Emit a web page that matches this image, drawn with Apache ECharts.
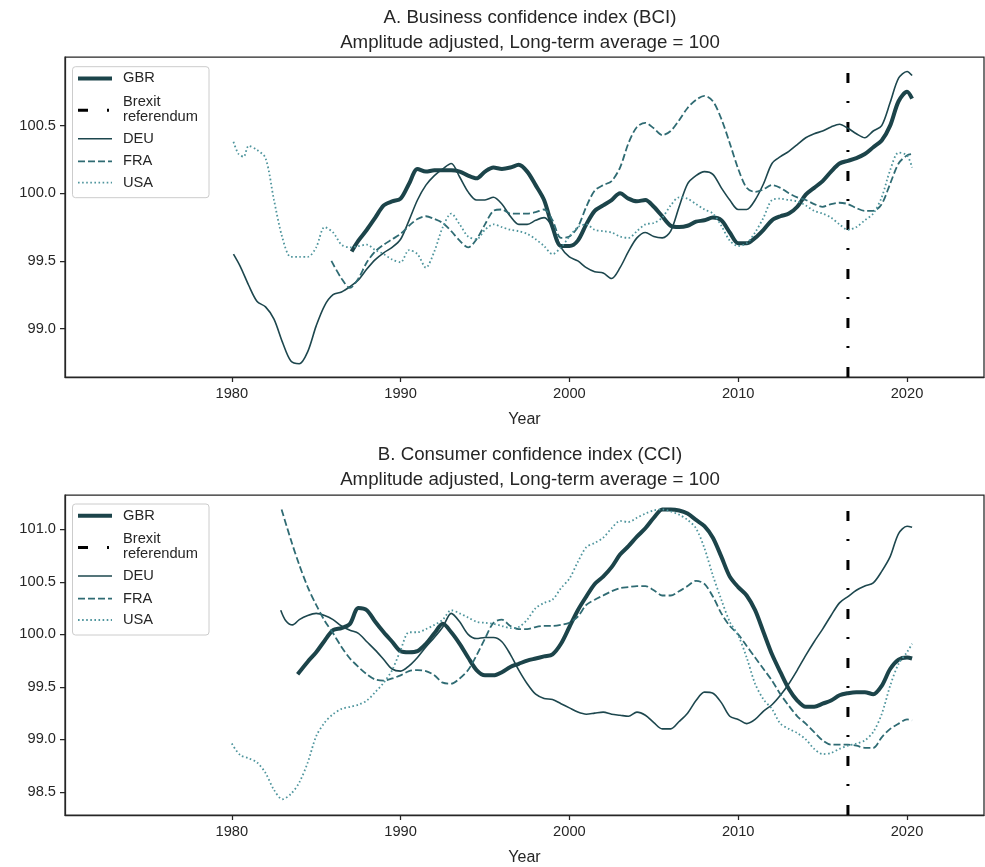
<!DOCTYPE html>
<html><head><meta charset="utf-8">
<script src="https://cdn.jsdelivr.net/npm/echarts@6/dist/echarts.min.js"></script>
<style>html,body{margin:0;padding:0;background:#fff}#chart{width:985px;height:867px}</style>
</head><body><div id="chart"></div>
<script>
// ---------- DATA ----------
const xTicks = [1980, 1990, 2000, 2010, 2020];
const bciTicks = [99.0, 99.5, 100.0, 100.5];
const cciTicks = [98.5, 99.0, 99.5, 100.0, 100.5, 101.0];
const brexitYear = 2016.5;
const countries = ['GBR', 'DEU', 'FRA', 'USA'];
const titleA = 'A. Business confidence index (BCI)\nAmplitude adjusted, Long-term average = 100';
const titleB = 'B. Consumer confidence index (CCI)\nAmplitude adjusted, Long-term average = 100';

const bciGBR = [[1987.1,99.57],[1987.5,99.65],[1988,99.73],[1988.5,99.82],[1989,99.91],[1989.5,99.94],[1990,99.96],[1990.5,100.07],[1991,100.18],[1991.5,100.16],[1992,100.17],[1992.5,100.17],[1993,100.17],[1993.5,100.16],[1994,100.13],[1994.5,100.11],[1995,100.16],[1995.5,100.19],[1996,100.18],[1996.5,100.19],[1997,100.21],[1997.5,100.16],[1998,100.06],[1998.5,99.95],[1999,99.75],[1999.5,99.61],[2000,99.61],[2000.5,99.65],[2001,99.77],[2001.5,99.87],[2002,99.91],[2002.5,99.95],[2003,100.0],[2003.5,99.96],[2004,99.94],[2004.5,99.95],[2005,99.90],[2005.5,99.83],[2006,99.76],[2006.5,99.75],[2007,99.76],[2007.5,99.79],[2008,99.80],[2008.5,99.82],[2009,99.80],[2009.5,99.71],[2010,99.63],[2010.5,99.63],[2011,99.67],[2011.5,99.73],[2012,99.80],[2012.5,99.83],[2013,99.85],[2013.5,99.90],[2014,99.99],[2014.5,100.04],[2015,100.09],[2015.5,100.16],[2016,100.22],[2016.5,100.24],[2017,100.26],[2017.5,100.29],[2018,100.34],[2018.5,100.39],[2019,100.50],[2019.5,100.68],[2020,100.75],[2020.3,100.70]];
const bciDEU = [[1980.1,99.55],[1980.5,99.46],[1981,99.32],[1981.5,99.20],[1982,99.16],[1982.5,99.07],[1983,98.90],[1983.5,98.76],[1984,98.74],[1984.5,98.83],[1985,99.02],[1985.5,99.17],[1986,99.25],[1986.5,99.27],[1987,99.31],[1987.5,99.36],[1988,99.44],[1988.5,99.51],[1989,99.56],[1989.5,99.60],[1990,99.66],[1990.5,99.80],[1991,99.95],[1991.5,100.06],[1992,100.13],[1992.5,100.18],[1993,100.22],[1993.5,100.12],[1994,100.01],[1994.5,99.95],[1995,99.95],[1995.5,99.97],[1996,99.92],[1996.5,99.83],[1997,99.77],[1997.5,99.77],[1998,99.80],[1998.5,99.82],[1999,99.75],[1999.5,99.60],[2000,99.53],[2000.5,99.50],[2001,99.45],[2001.5,99.42],[2002,99.41],[2002.5,99.37],[2003,99.45],[2003.5,99.57],[2004,99.67],[2004.5,99.71],[2005,99.68],[2005.5,99.67],[2006,99.72],[2006.5,99.90],[2007,100.07],[2007.5,100.13],[2008,100.16],[2008.5,100.14],[2009,100.04],[2009.5,99.95],[2010,99.88],[2010.5,99.88],[2011,99.95],[2011.5,100.07],[2012,100.22],[2012.5,100.27],[2013,100.31],[2013.5,100.36],[2014,100.41],[2014.5,100.44],[2015,100.46],[2015.5,100.49],[2016,100.51],[2016.5,100.48],[2017,100.44],[2017.5,100.41],[2018,100.46],[2018.5,100.50],[2019,100.67],[2019.5,100.85],[2020,100.90],[2020.3,100.87]];
const bciFRA = [[1985.9,99.50],[1986.5,99.37],[1987,99.30],[1987.5,99.37],[1988,99.49],[1988.5,99.57],[1989,99.62],[1989.5,99.66],[1990,99.70],[1990.5,99.76],[1991,99.81],[1991.5,99.83],[1992,99.81],[1992.5,99.78],[1993,99.72],[1993.5,99.65],[1994,99.60],[1994.5,99.66],[1995,99.77],[1995.5,99.87],[1996,99.88],[1996.5,99.85],[1997,99.85],[1997.5,99.85],[1998,99.86],[1998.5,99.88],[1999,99.80],[1999.5,99.67],[2000,99.68],[2000.5,99.75],[2001,99.90],[2001.5,100.02],[2002,100.06],[2002.5,100.09],[2003,100.19],[2003.5,100.37],[2004,100.49],[2004.5,100.52],[2005,100.48],[2005.5,100.43],[2006,100.46],[2006.5,100.54],[2007,100.63],[2007.5,100.69],[2008,100.72],[2008.5,100.68],[2009,100.55],[2009.5,100.37],[2010,100.18],[2010.5,100.04],[2011,100.01],[2011.5,100.03],[2012,100.06],[2012.5,100.04],[2013,100.00],[2013.5,99.97],[2014,99.95],[2014.5,99.92],[2015,99.90],[2015.5,99.92],[2016,99.93],[2016.5,99.92],[2017,99.89],[2017.5,99.87],[2018,99.87],[2018.5,99.92],[2019,100.07],[2019.5,100.22],[2020,100.28],[2020.3,100.29]];
const bciUSA = [[1980.1,100.38],[1980.4,100.29],[1980.7,100.27],[1981,100.35],[1981.5,100.32],[1982,100.26],[1982.5,99.95],[1983,99.67],[1983.5,99.53],[1984,99.53],[1984.5,99.53],[1985,99.60],[1985.5,99.75],[1986,99.71],[1986.5,99.62],[1987,99.60],[1987.5,99.61],[1988,99.62],[1988.5,99.58],[1989,99.55],[1989.5,99.51],[1990,99.49],[1990.5,99.58],[1991,99.55],[1991.5,99.45],[1992,99.57],[1992.5,99.75],[1993,99.85],[1993.5,99.77],[1994,99.68],[1994.5,99.66],[1995,99.73],[1995.5,99.77],[1996,99.75],[1996.5,99.73],[1997,99.72],[1997.5,99.70],[1998,99.66],[1998.5,99.61],[1999,99.55],[1999.5,99.60],[2000,99.68],[2000.5,99.75],[2001,99.77],[2001.5,99.73],[2002,99.72],[2002.5,99.71],[2003,99.68],[2003.5,99.67],[2004,99.72],[2004.5,99.77],[2005,99.78],[2005.5,99.82],[2006,99.91],[2006.5,99.97],[2007,99.96],[2007.5,99.92],[2008,99.88],[2008.5,99.85],[2009,99.76],[2009.5,99.65],[2010,99.61],[2010.5,99.63],[2011,99.71],[2011.5,99.82],[2012,99.95],[2012.5,99.96],[2013,99.95],[2013.5,99.94],[2014,99.91],[2014.5,99.87],[2015,99.85],[2015.5,99.82],[2016,99.77],[2016.5,99.73],[2017,99.75],[2017.5,99.80],[2018,99.85],[2018.5,99.97],[2019,100.17],[2019.5,100.30],[2020,100.28],[2020.3,100.19]];

const cciGBR = [[1983.9,99.62],[1984.5,99.74],[1985,99.83],[1985.5,99.94],[1986,100.04],[1986.5,100.06],[1987,100.10],[1987.5,100.25],[1988,100.23],[1988.5,100.12],[1989,100.02],[1989.5,99.93],[1990,99.84],[1990.5,99.83],[1991,99.84],[1991.5,99.91],[1992,100.01],[1992.5,100.10],[1993,100.02],[1993.5,99.91],[1994,99.78],[1994.5,99.66],[1995,99.61],[1995.5,99.61],[1996,99.64],[1996.5,99.69],[1997,99.72],[1997.5,99.75],[1998,99.77],[1998.5,99.79],[1999,99.81],[1999.5,99.91],[2000,100.07],[2000.5,100.23],[2001,100.36],[2001.5,100.48],[2002,100.55],[2002.5,100.64],[2003,100.76],[2003.5,100.84],[2004,100.93],[2004.5,101.01],[2005,101.11],[2005.5,101.19],[2006,101.19],[2006.5,101.18],[2007,101.15],[2007.5,101.09],[2008,101.03],[2008.5,100.92],[2009,100.74],[2009.5,100.55],[2010,100.45],[2010.5,100.37],[2011,100.23],[2011.5,100.02],[2012,99.81],[2012.5,99.64],[2013,99.48],[2013.5,99.37],[2014,99.31],[2014.5,99.31],[2015,99.34],[2015.5,99.37],[2016,99.42],[2016.5,99.44],[2017,99.45],[2017.5,99.45],[2018,99.43],[2018.5,99.51],[2019,99.67],[2019.5,99.76],[2020,99.78],[2020.3,99.77]];
const cciDEU = [[1982.9,100.23],[1983.2,100.13],[1983.6,100.09],[1984,100.14],[1984.5,100.18],[1985,100.20],[1985.5,100.18],[1986,100.14],[1986.5,100.08],[1987,100.04],[1987.5,100.01],[1988,99.93],[1988.5,99.85],[1989,99.76],[1989.5,99.67],[1990,99.65],[1990.5,99.70],[1991,99.78],[1991.5,99.88],[1992,99.97],[1992.5,100.07],[1993,100.20],[1993.5,100.12],[1994,100.00],[1994.5,99.96],[1995,99.97],[1995.5,99.97],[1996,99.93],[1996.5,99.81],[1997,99.66],[1997.5,99.53],[1998,99.43],[1998.5,99.39],[1999,99.38],[1999.5,99.34],[2000,99.30],[2000.5,99.26],[2001,99.24],[2001.5,99.25],[2002,99.26],[2002.5,99.24],[2003,99.23],[2003.5,99.22],[2004,99.26],[2004.5,99.23],[2005,99.16],[2005.5,99.10],[2006,99.10],[2006.5,99.17],[2007,99.25],[2007.5,99.37],[2008,99.45],[2008.5,99.44],[2009,99.35],[2009.5,99.22],[2010,99.19],[2010.5,99.15],[2011,99.19],[2011.5,99.27],[2012,99.33],[2012.5,99.42],[2013,99.53],[2013.5,99.66],[2014,99.80],[2014.5,99.93],[2015,100.05],[2015.5,100.18],[2016,100.30],[2016.5,100.36],[2017,100.42],[2017.5,100.46],[2018,100.49],[2018.5,100.60],[2019,100.74],[2019.5,100.96],[2020,101.03],[2020.3,101.02]];
const cciFRA = [[1982.95,101.19],[1983.5,100.90],[1984,100.66],[1984.5,100.45],[1985,100.28],[1985.5,100.13],[1986,100.01],[1986.5,99.88],[1987,99.77],[1987.5,99.69],[1988,99.62],[1988.5,99.57],[1989,99.56],[1989.5,99.58],[1990,99.61],[1990.5,99.65],[1991,99.66],[1991.5,99.65],[1992,99.61],[1992.5,99.54],[1993,99.53],[1993.5,99.58],[1994,99.66],[1994.5,99.80],[1995,99.96],[1995.5,100.11],[1996,100.14],[1996.5,100.08],[1997,100.05],[1997.5,100.05],[1998,100.07],[1998.5,100.08],[1999,100.08],[1999.5,100.09],[2000,100.11],[2000.5,100.17],[2001,100.28],[2001.5,100.33],[2002,100.37],[2002.5,100.41],[2003,100.44],[2003.5,100.45],[2004,100.46],[2004.5,100.46],[2005,100.42],[2005.5,100.37],[2006,100.37],[2006.5,100.41],[2007,100.46],[2007.5,100.51],[2008,100.48],[2008.5,100.36],[2009,100.20],[2009.5,100.08],[2010,100.00],[2010.5,99.89],[2011,99.78],[2011.5,99.67],[2012,99.56],[2012.5,99.43],[2013,99.32],[2013.5,99.22],[2014,99.15],[2014.5,99.07],[2015,98.99],[2015.5,98.95],[2016,98.95],[2016.5,98.95],[2017,98.94],[2017.5,98.92],[2018,98.92],[2018.5,99.02],[2019,99.10],[2019.5,99.15],[2020,99.19],[2020.3,99.18]];
const cciUSA = [[1980,98.96],[1980.5,98.85],[1981,98.82],[1981.5,98.78],[1982,98.68],[1982.5,98.52],[1983,98.43],[1983.5,98.48],[1984,98.59],[1984.5,98.78],[1985,99.03],[1985.5,99.16],[1986,99.24],[1986.5,99.29],[1987,99.31],[1987.5,99.33],[1988,99.37],[1988.5,99.45],[1989,99.54],[1989.5,99.66],[1990,99.85],[1990.5,100.02],[1991,100.02],[1991.5,100.05],[1992,100.09],[1992.5,100.14],[1993,100.23],[1993.5,100.20],[1994,100.16],[1994.5,100.12],[1995,100.11],[1995.5,100.10],[1996,100.08],[1996.5,100.06],[1997,100.07],[1997.5,100.14],[1998,100.25],[1998.5,100.30],[1999,100.33],[1999.5,100.44],[2000,100.53],[2000.5,100.69],[2001,100.83],[2001.5,100.87],[2002,100.92],[2002.5,101.01],[2003,101.08],[2003.5,101.07],[2004,101.11],[2004.5,101.15],[2005,101.18],[2005.5,101.19],[2006,101.17],[2006.5,101.14],[2007,101.09],[2007.5,101.01],[2008,100.82],[2008.5,100.56],[2009,100.33],[2009.5,100.12],[2010,99.99],[2010.5,99.78],[2011,99.53],[2011.5,99.38],[2012,99.29],[2012.5,99.15],[2013,99.10],[2013.5,99.06],[2014,99.00],[2014.5,98.91],[2015,98.86],[2015.5,98.87],[2016,98.91],[2016.5,98.94],[2017,98.96],[2017.5,98.99],[2018,99.07],[2018.5,99.24],[2019,99.51],[2019.5,99.72],[2020,99.83],[2020.3,99.91]];

// ---------- STYLE / LAYOUT ----------
const X_MIN = 1970.12, X_MAX = 2024.56;
const A_MIN = 98.642, A_MAX = 101.007;
const B_MIN = 98.28, B_MAX = 101.327;
const FONT = '"Liberation Sans", Arial, sans-serif';
const INK = '#262626';
const COL = { GBR: '#1c444a', DEU: '#1d474e', FRA: '#2f6b73', USA: '#4f959d', BREXIT: '#000000' };
const STY = {
  GBR: { width: 4, type: 'solid' },
  DEU: { width: 1.6, type: 'solid' },
  FRA: { width: 1.8, type: [7, 3] },
  USA: { width: 1.8, type: [1.6, 2.5] },
  BREXIT: { width: 3, type: [10, 19, 2, 18] }
};
const GRIDS = [{ left: 65, top: 57, right: 1, height: 320 }, { left: 65, top: 495, right: 1, height: 320 }];

function xAxisFor(gi) {
  return {
    type: 'value', gridIndex: gi, min: X_MIN, max: X_MAX,
    name: 'Year', nameLocation: 'middle', nameGap: 35,
    nameTextStyle: { fontSize: 16, color: INK, fontFamily: FONT },
    axisLine: { show: true, onZero: false, lineStyle: { color: INK, width: 1.25 } },
    axisTick: { show: true, length: 5, lineStyle: { color: INK, width: 1.25 }, customValues: xTicks },
    axisLabel: { fontSize: 14.67, color: INK, fontFamily: FONT, margin: 9, customValues: xTicks, formatter: v => String(v) },
    splitLine: { show: false }
  };
}
function yAxisFor(gi, mn, mx, ticks) {
  return {
    type: 'value', gridIndex: gi, min: mn, max: mx,
    axisLine: { show: true, onZero: false, lineStyle: { color: INK, width: 1.25 } },
    axisTick: { show: true, length: 5, lineStyle: { color: INK, width: 1.25 }, customValues: ticks },
    axisLabel: { fontSize: 14.67, color: INK, fontFamily: FONT, margin: 9, customValues: ticks, formatter: v => Number(v).toFixed(1) },
    splitLine: { show: false }
  };
}
function lineSeries(key, data, gi) {
  return {
    name: key, type: 'line', xAxisIndex: gi, yAxisIndex: gi, data: data,
    symbol: 'none', showSymbol: false, smooth: 0.3, silent: true,
    lineStyle: { color: COL[key], width: STY[key].width, type: STY[key].type, cap: 'butt' }
  };
}
function brexitSeries(gi, mn, mx) {
  return {
    name: 'Brexit referendum', type: 'line', xAxisIndex: gi, yAxisIndex: gi,
    data: [[brexitYear, mn], [brexitYear, mx]], symbol: 'none', silent: true,
    lineStyle: { color: COL.BREXIT, width: STY.BREXIT.width, type: STY.BREXIT.type, cap: 'butt' }
  };
}
function legendGraphic(top) {
  const L = 72.5, x1 = 78, x2 = 112, tx = 123;
  const items = [];
  items.push({ type: 'rect', shape: { x: L, y: top, width: 136.5, height: 131, r: 3 },
    style: { fill: 'rgba(255,255,255,0.85)', stroke: '#cccccc', lineWidth: 1 }, z: 100 });
  const rows = [
    { key: 'GBR', y: 11.7, label: 'GBR' },
    { key: 'BREXIT', y: 43.6, label: null },
    { key: 'DEU', y: 72, label: 'DEU' },
    { key: 'FRA', y: 94.6, label: 'FRA' },
    { key: 'USA', y: 116, label: 'USA' }
  ];
  rows.forEach(r => {
    const t = STY[r.key].type;
    items.push({ type: 'line', shape: { x1: x1, y1: top + r.y, x2: x2, y2: top + r.y },
      style: { stroke: COL[r.key], lineWidth: STY[r.key].width, lineDash: Array.isArray(t) ? t : null, lineCap: 'butt' }, z: 101 });
    if (r.label) items.push({ type: 'text', x: tx, y: top + r.y,
      style: { text: r.label, fill: INK, fontSize: 14.67, fontFamily: FONT, verticalAlign: 'middle', align: 'left' }, z: 101 });
  });
  items.push({ type: 'text', x: tx, y: top + 35,
    style: { text: 'Brexit', fill: INK, fontSize: 14.67, fontFamily: FONT, verticalAlign: 'middle', align: 'left' }, z: 101 });
  items.push({ type: 'text', x: tx, y: top + 50,
    style: { text: 'referendum', fill: INK, fontSize: 14.67, fontFamily: FONT, verticalAlign: 'middle', align: 'left' }, z: 101 });
  return items;
}

const chart = echarts.init(document.getElementById('chart'), null, { renderer: 'canvas' });
chart.setOption({
  animation: false,
  backgroundColor: '#ffffff',
  title: [
    { text: titleA, left: 525, top: 0, textAlign: 'center',
      textStyle: { fontSize: 18.7, fontWeight: 'normal', color: INK, fontFamily: FONT, lineHeight: 25 } },
    { text: titleB, left: 525, top: 437, textAlign: 'center',
      textStyle: { fontSize: 18.7, fontWeight: 'normal', color: INK, fontFamily: FONT, lineHeight: 25 } }
  ],
  grid: GRIDS.map(g => Object.assign({ show: true, borderColor: INK, borderWidth: 1.25, backgroundColor: 'transparent', containLabel: false }, g)),
  xAxis: [xAxisFor(0), xAxisFor(1)],
  yAxis: [yAxisFor(0, A_MIN, A_MAX, bciTicks), yAxisFor(1, B_MIN, B_MAX, cciTicks)],
  series: [
    lineSeries('GBR', bciGBR, 0), brexitSeries(0, A_MIN, A_MAX),
    lineSeries('DEU', bciDEU, 0), lineSeries('FRA', bciFRA, 0), lineSeries('USA', bciUSA, 0),
    lineSeries('GBR', cciGBR, 1), brexitSeries(1, B_MIN, B_MAX),
    lineSeries('DEU', cciDEU, 1), lineSeries('FRA', cciFRA, 1), lineSeries('USA', cciUSA, 1)
  ],
  graphic: legendGraphic(66.7).concat(legendGraphic(504))
});
</script></body></html>
